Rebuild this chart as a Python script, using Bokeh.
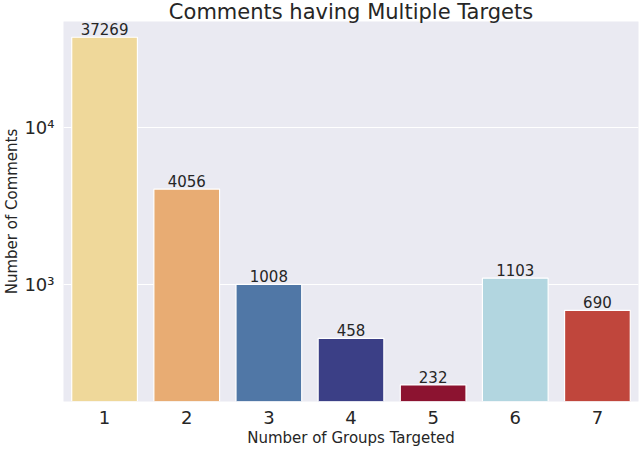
from bokeh.plotting import figure
from bokeh.models import FactorRange, Range1d, FixedTicker, ColumnDataSource
from bokeh.core.properties import value
from bokeh.embed import file_html
from bokeh.resources import INLINE

groups = ["1", "2", "3", "4", "5", "6", "7"]
counts = [37269, 4056, 1008, 458, 232, 1103, 690]
colors = ["#EFD89A", "#E8AC73", "#5077A6", "#3B3F86", "#8C1330", "#B2D6E0", "#C0463C"]
y_ticks = [1000, 10000]
y_tick_labels = {1000: "10³", 10000: "10⁴"}
title_text = "Comments having Multiple Targets"

FONT = "DejaVu Sans"
TXT = "#262626"
Y_LO, Y_HI = 182, 46900

src = ColumnDataSource(dict(g=groups, c=counts, col=colors,
                            lab=[str(v) for v in counts]))

p = figure(width=640, height=449, output_backend="svg", toolbar_location=None,
           x_range=FactorRange(*groups, range_padding=0),
           y_range=Range1d(Y_LO, Y_HI), y_axis_type="log",
           title=title_text,
           min_border_left=62, min_border_right=2, min_border_bottom=46, min_border_top=0)

p.vbar(x="g", top="c", bottom=1, width=0.8, fill_color="col", line_color="white",
       line_width=1.2, source=src)
p.text(x="g", y="c", text="lab", source=src, text_align="center", text_baseline="bottom",
       y_offset=-2, text_font=value(FONT), text_font_size="15px", text_color=TXT)

p.title.text_font = FONT
p.title.text_font_size = "21px"
p.title.text_font_style = "normal"
p.title.text_color = TXT
p.title.align = "center"
p.title.standoff = -5
p.title.offset = 0

p.background_fill_color = "#EAEAF2"
p.border_fill_color = "white"
p.outline_line_color = None
p.xgrid.grid_line_color = None
p.ygrid.grid_line_color = "white"
p.ygrid.grid_line_width = 1.2

p.yaxis.ticker = FixedTicker(ticks=y_ticks, minor_ticks=[])
p.yaxis.major_label_overrides = y_tick_labels
p.yaxis.axis_label = "Number of Comments"
p.xaxis.axis_label = "Number of Groups Targeted"

for ax in (p.xaxis[0], p.yaxis[0]):
    ax.axis_line_color = None
    ax.major_tick_line_color = None
    ax.minor_tick_line_color = None
    ax.major_tick_in = 0
    ax.major_tick_out = 0
    ax.minor_tick_in = 0
    ax.minor_tick_out = 0
    ax.major_label_text_font = FONT
    ax.major_label_text_font_size = "18px"
    ax.major_label_text_color = TXT
    ax.axis_label_text_font = FONT
    ax.axis_label_text_font_size = "15px"
    ax.axis_label_text_font_style = "normal"
    ax.axis_label_text_color = TXT

p.xaxis.major_label_standoff = 9
p.xaxis.axis_label_standoff = 2
p.yaxis.major_label_standoff = 9
p.yaxis.axis_label_standoff = 0

open("out.html", "w").write(file_html(p, INLINE))
